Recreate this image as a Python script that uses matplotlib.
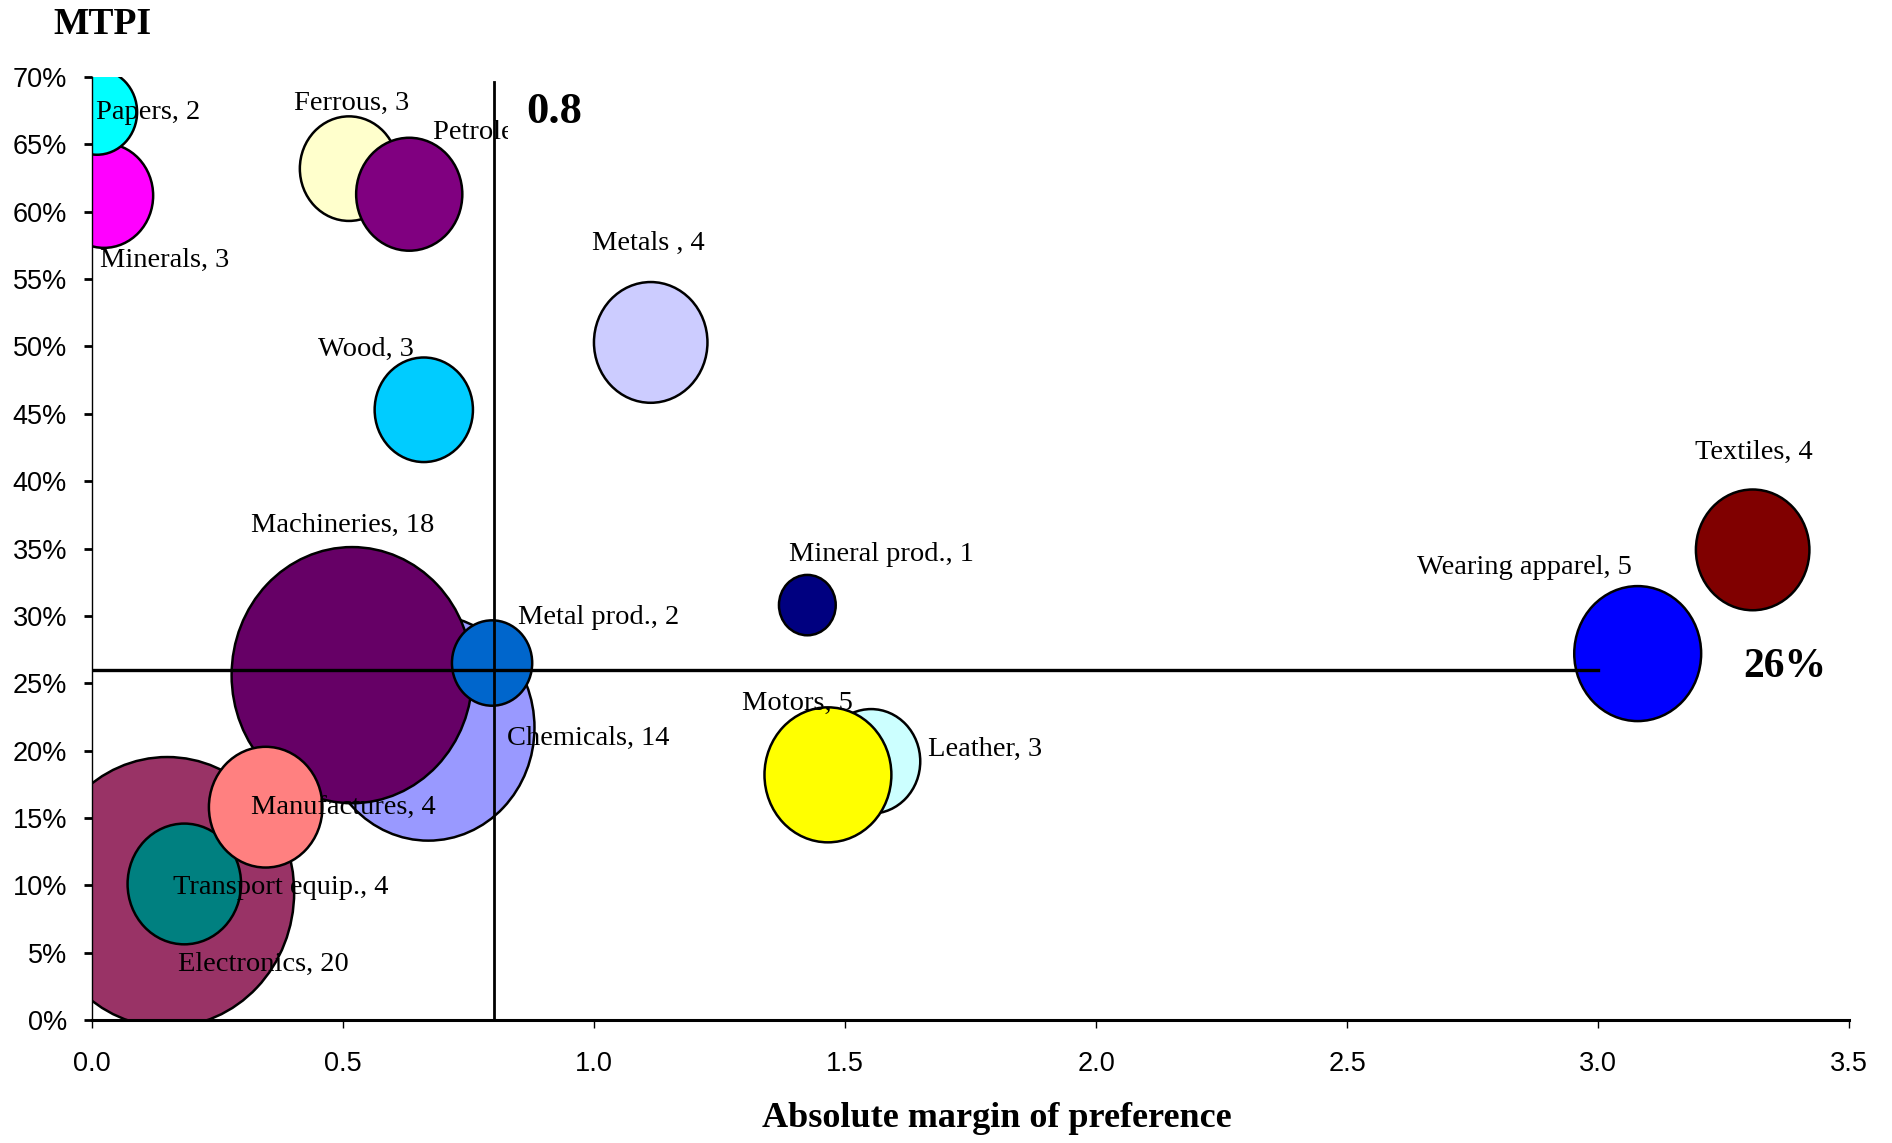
import matplotlib
matplotlib.use("Agg")
import matplotlib.pyplot as plt
from matplotlib.path import Path
from matplotlib.transforms import Bbox, TransformedBbox
from matplotlib.ticker import FuncFormatter, MultipleLocator

# ---------------- data ----------------
sectors = ["Electronics", "Transport equip.", "Chemicals", "Machineries", "Manufactures",
           "Metal prod.", "Minerals", "Papers", "Ferrous", "Petroleum", "Wood", "Metals ",
           "Mineral prod.", "Leather", "Motors", "Wearing apparel", "Textiles"]
margin = [0.15, 0.184, 0.67, 0.518, 0.346, 0.797, 0.024, 0.01, 0.512, 0.632, 0.661, 1.113,
          1.425, 1.552, 1.466, 3.079, 3.308]
mtpi = [9.5, 10.1, 21.7, 25.6, 15.8, 26.5, 61.2, 67.4, 63.2, 61.3, 45.3, 50.3,
        30.8, 19.2, 18.2, 27.2, 34.9]
counts = [20, 4, 14, 18, 4, 2, 3, 2, 3, 4, 3, 4, 1, 3, 5, 5, 4]
bubble_size = [20, 4, 14, 18, 4, 2, 3, 2, 3, 3.5, 3, 4, 1, 3, 5, 5, 4]
colors = ["#993366", "#008080", "#9999FF", "#660066", "#FF8080", "#0066CC", "#FF00FF",
          "#00FFFF", "#FFFFCC", "#800080", "#00CCFF", "#CCCCFF", "#000080", "#CCFFFF",
          "#FFFF00", "#0000FF", "#800000"]
# label offsets in points from bubble centre
label_dx = [69.5, 69.5, 115, -7, 55.6, 77, 43.5, 36.5, 1.7, 69.5, -41.7, -1.7,
            53, 82, -21.7, -81.7, 1]
label_dy = [-52, -2.6, -8, 108, -1, 33, -47, 0, 47, 44.3, 43.5, 71,
            36.5, 8.7, 51.3, 61.7, 70.4]

threshold_x = 0.8
threshold_y = 26
hline_end = 3.0
vline_top = 69.6
xticks = [0.0, 0.5, 1.0, 1.5, 2.0, 2.5, 3.0, 3.5]

serif = ["Liberation Serif", "DejaVu Serif"]
sans = ["Liberation Sans", "DejaVu Sans"]

fig = plt.figure(figsize=(18.92, 11.43), dpi=100)
ax = fig.add_axes([0.0486, 0.1076, 0.9287, 0.825])

# elliptic bubble marker (slightly taller than wide)
circ = Path.unit_circle()
ell = Path(circ.vertices * [0.94, 1.0], circ.codes)

d5_pt = 135 * 72 / 100.0  # diameter (points) for a size-5 bubble
sizes = [d5_pt ** 2 * b / 5.0 for b in bubble_size]
ax.scatter(margin, mtpi, s=sizes, c=colors, marker=ell, edgecolors="black",
           linewidths=1.8, zorder=2)

ax.plot([threshold_x, threshold_x], [0, vline_top], color="black", lw=2.0, zorder=3)
ax.plot([0, hline_end], [threshold_y, threshold_y], color="black", lw=2.4, zorder=3)

for i, name in enumerate(sectors):
    t = ax.annotate(f"{name}, {counts[i]}", (margin[i], mtpi[i]),
                    xytext=(label_dx[i], label_dy[i]), textcoords="offset points",
                    ha="center", va="center", fontsize=20.5, family=serif, zorder=4,
                    annotation_clip=False)
    if name == "Petroleum":
        t.set_clip_on(True)
        t.set_clip_box(TransformedBbox(Bbox([[0, 0], [threshold_x + 0.028, 70]]), ax.transData))

ax.text(0.865, 67.4, "0.8", fontsize=32, fontweight="bold", family=serif,
        ha="left", va="center", zorder=5)
ax.text(3.29, 26.2, "26%", fontsize=30, fontweight="bold", family=serif,
        ha="left", va="center", zorder=5)

ax.set_xlim(0, 3.5)
ax.set_ylim(0, 70)
ax.set_xticks(xticks)
ax.xaxis.set_major_formatter(FuncFormatter(lambda v, p: f"{v:.1f}"))
ax.yaxis.set_major_locator(MultipleLocator(5))
ax.yaxis.set_major_formatter(FuncFormatter(lambda v, p: f"{v:.0f}%"))

for s in ["top", "right"]:
    ax.spines[s].set_visible(False)
ax.spines["left"].set_linewidth(1.0)
ax.spines["bottom"].set_linewidth(2.2)
ax.spines["left"].set_zorder(5)
ax.spines["bottom"].set_zorder(5)

ax.tick_params(axis="y", direction="out", length=6, width=2, pad=12, labelsize=19.5)
ax.tick_params(axis="x", direction="out", length=6, width=1, pad=16, labelsize=19.5)
for lab in ax.get_xticklabels() + ax.get_yticklabels():
    lab.set_family(sans)

ax.set_xlabel("Absolute margin of preference", fontsize=26, fontweight="bold", family=serif)
ax.xaxis.set_label_coords(0.515, -0.087)
ax.xaxis.label.set_va("top")

fig.text(0.028, 0.979, "MTPI", fontsize=27, fontweight="bold", family=serif,
         ha="left", va="center")

fig.savefig("out.png", dpi=100)
